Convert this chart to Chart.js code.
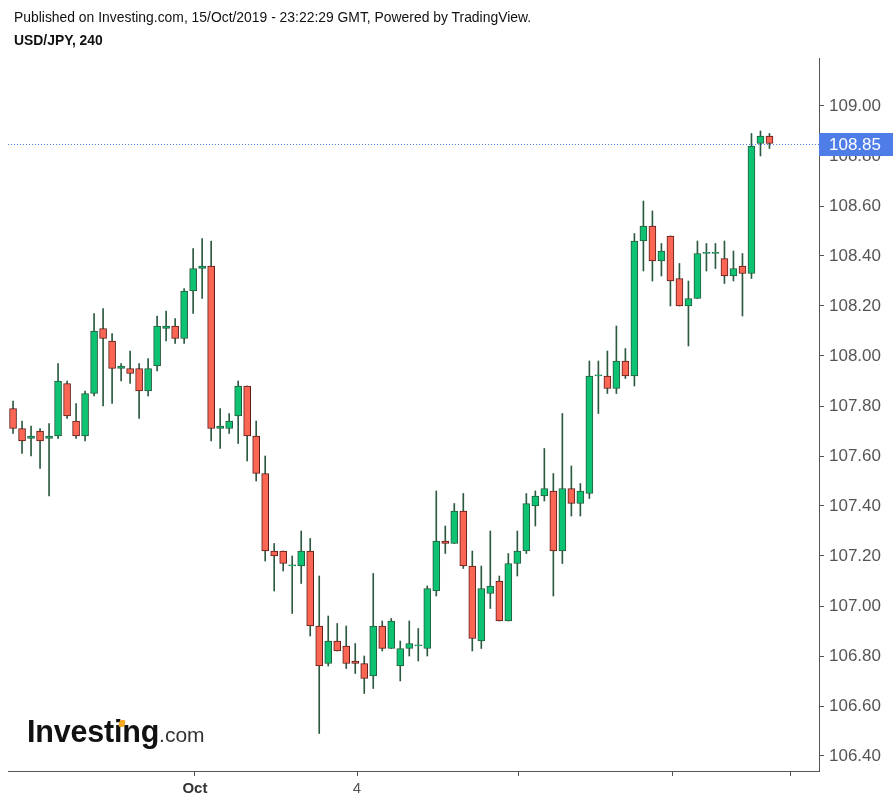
<!DOCTYPE html>
<html>
<head>
<meta charset="utf-8">
<script src="https://cdn.jsdelivr.net/npm/chart.js@4.4.1/dist/chart.umd.min.js"></script>
<style>
  body { margin: 0; background: #fff; }
  #wrap { position: relative; width: 893px; height: 806px; font-family: "Liberation Sans", Arial, sans-serif; }
  #c { position: absolute; left: 0; top: 0; }
  .hdr { position: absolute; left: 14px; font-size: 13.9px; color: #111; white-space: nowrap; }
  #logo { position: absolute; left: 27px; top: 714px; white-space: nowrap; }
  #logo .big { font-size: 30.5px; font-weight: bold; color: #111; letter-spacing: -0.2px; }
  #logo .small { font-size: 21px; color: #333; }
  #dot { position: absolute; left: 119px; top: 720px; width: 6px; height: 7px; background: #f7a823; border-radius: 2px; transform: skewX(-12deg); }
</style>
</head>
<body>
<div id="wrap">
  <canvas id="c" width="893" height="806"></canvas>
  <div class="hdr" style="top:9px">Published on Investing.com, 15/Oct/2019 - 23:22:29 GMT, Powered by TradingView.</div>
  <div class="hdr" style="top:32px;font-weight:bold">USD/JPY, 240</div>
  <div id="logo"><span class="big">Investing</span><span class="small">.com</span></div>
  <div id="dot"></div>
</div>
<script>
// USD/JPY 4h candles
let opens = [107.79,107.71,107.67,107.70,107.67,107.68,107.89,107.74,107.68,107.85,
  108.11,108.06,107.95,107.95,107.95,107.86,107.96,108.11,108.12,108.07,
  108.26,108.35,108.36,107.71,107.71,107.76,107.88,107.68,107.53,107.22,
  107.22,107.16,107.16,107.22,106.92,106.77,106.86,106.84,106.78,106.77,
  106.72,106.92,106.83,106.76,106.83,106.84,106.83,107.06,107.26,107.25,
  107.38,107.16,106.86,107.05,107.10,106.94,107.17,107.22,107.40,107.44,
  107.46,107.22,107.47,107.41,107.45,107.92,107.92,107.87,107.98,107.92,
  108.46,108.52,108.38,108.48,108.31,108.20,108.23,108.41,108.41,108.39,
  108.32,108.36,108.33,108.85,108.88];
let highs = [107.82,107.74,107.72,107.71,107.73,107.97,107.90,107.81,107.86,108.17,
  108.19,108.09,107.97,108.02,107.97,107.99,108.16,108.18,108.15,108.27,
  108.43,108.47,108.46,107.79,107.77,107.90,107.88,107.74,107.60,107.25,
  107.22,107.20,107.30,107.27,107.12,106.96,106.93,106.92,106.85,106.80,
  107.13,106.94,106.95,106.86,106.94,106.91,107.08,107.46,107.32,107.41,
  107.45,107.22,107.16,107.30,107.12,107.21,107.30,107.45,107.46,107.63,
  107.53,107.77,107.56,107.49,107.98,107.98,108.02,108.12,108.03,108.49,
  108.62,108.58,108.45,108.48,108.37,108.30,108.46,108.45,108.45,108.46,
  108.42,108.41,108.89,108.90,108.89];
let lows = [107.69,107.61,107.60,107.55,107.44,107.67,107.75,107.67,107.66,107.84,
  107.80,107.81,107.90,107.89,107.75,107.84,107.94,108.06,108.05,108.05,
  108.17,108.23,107.66,107.63,107.69,107.65,107.58,107.50,107.18,107.06,
  107.14,106.97,107.09,106.88,106.49,106.76,106.82,106.75,106.73,106.65,
  106.67,106.82,106.83,106.70,106.80,106.78,106.80,107.04,107.21,107.25,
  107.15,106.82,106.83,106.99,106.94,106.94,107.12,107.21,107.32,107.42,
  107.04,107.17,107.36,107.36,107.43,107.77,107.85,107.85,107.91,107.88,
  108.34,108.30,108.32,108.20,108.20,108.04,108.23,108.34,108.35,108.29,
  108.30,108.16,108.31,108.80,108.83];
let closes = [107.71,107.66,107.68,107.66,107.68,107.90,107.76,107.68,107.85,108.10,
  108.07,107.95,107.96,107.93,107.86,107.95,108.12,108.12,108.07,108.26,
  108.35,108.36,107.71,107.72,107.74,107.88,107.68,107.53,107.22,107.20,
  107.17,107.165,107.22,106.92,106.76,106.86,106.82,106.77,106.77,106.71,
  106.92,106.83,106.94,106.83,106.85,106.845,107.07,107.26,107.25,107.38,
  107.16,106.87,107.07,107.08,106.94,107.17,107.22,107.41,107.44,107.47,
  107.22,107.47,107.41,107.46,107.92,107.925,107.87,107.98,107.92,108.46,
  108.52,108.38,108.42,108.30,108.20,108.23,108.41,108.415,108.415,108.32,
  108.35,108.33,108.84,108.88,108.85];
let lastPrice = 108.85;
let yTicks = [106.4,106.6,106.8,107.0,107.2,107.4,107.6,107.8,108.0,108.2,108.4,108.6,108.8,109.0];
let xTickPos = [20.2, 38.2, 56.1, 73.2, 86.3];
let xTickLabels = ["Oct", "4", "", "", ""];

let up = opens.map((o, i) => closes[i] >= o);

let priceLine = {
  id: "priceLine",
  afterDatasetsDraw(chart) {
    let c = chart.ctx, a = chart.chartArea;
    let y = Math.round(chart.scales.y.getPixelForValue(lastPrice)) + 0.5;
    c.save();
    c.strokeStyle = "#4a78e6";
    c.lineWidth = 1;
    c.setLineDash([1, 2]);
    c.beginPath();
    c.moveTo(a.left, y);
    c.lineTo(a.right, y);
    c.stroke();
    c.setLineDash([]);
    c.fillStyle = "#4f7de8";
    c.fillRect(a.right, y - 11.5, chart.width - a.right, 23);
    c.fillStyle = "#fff";
    c.font = '17px "Liberation Sans", Arial, sans-serif';
    c.textBaseline = "middle";
    c.fillText(lastPrice.toFixed(2), a.right + 10, y + 1);
    c.restore();
  }
};

let ctx = document.getElementById("c").getContext("2d");
let grafico = new Chart(ctx, {
  type: "bar",
  data: {
    datasets: [
      {
        label: "body",
        order: 0,
        grouped: false,
        data: opens.map((o, i) => ({ x: i, y: [o, closes[i]] })),
        backgroundColor: up.map(u => u ? "#0ec274" : "#fa6554"),
        borderColor: up.map(u => u ? "#245c3c" : "#5e1d16"),
        borderWidth: 1,
        borderSkipped: false,
        barThickness: 7,
      },
      {
        label: "wick",
        order: 1,
        grouped: false,
        data: lows.map((l, i) => ({ x: i, y: [l, highs[i]] })),
        backgroundColor: "#2c5a40",
        borderWidth: 0,
        barThickness: 1,
      },
    ],
  },
  options: {
    responsive: false,
    animation: false,
    devicePixelRatio: 1,
    layout: { padding: { top: 58, left: 8, right: 0, bottom: 0 } },
    plugins: { legend: { display: false }, tooltip: { enabled: false } },
    scales: {
      x: {
        type: "linear",
        offset: false,
        min: -0.56,
        max: 89.5,
        afterBuildTicks: s => { s.ticks = xTickPos.map(v => ({ value: v })); },
        afterFit: s => { s.height = 35; },
        grid: { display: true, offset: false, drawOnChartArea: false, drawTicks: true, tickLength: 5, color: "#555" },
        border: { display: true, color: "#555" },
        ticks: {
          autoSkip: false,
          maxRotation: 0,
          padding: 4,
          callback: (v, i) => xTickLabels[i],
          color: c => (c.index === 0 ? "#333" : "#555"),
          font: c => ({ family: '"Liberation Sans", Arial, sans-serif', size: 15, weight: c.index === 0 ? "bold" : "normal" }),
        },
      },
      y: {
        position: "right",
        min: 106.34,
        max: 109.192,
        afterBuildTicks: s => { s.ticks = yTicks.map(v => ({ value: v })); },
        afterFit: s => { s.width = 74; },
        grid: { display: true, drawOnChartArea: false, drawTicks: true, tickLength: 5, color: "#555" },
        border: { display: true, color: "#555" },
        ticks: {
          padding: 5,
          color: "#555",
          font: { family: '"Liberation Sans", Arial, sans-serif', size: 17 },
          callback: v => v.toFixed(2),
        },
      },
    },
  },
  plugins: [priceLine],
});
</script>
</body>
</html>
